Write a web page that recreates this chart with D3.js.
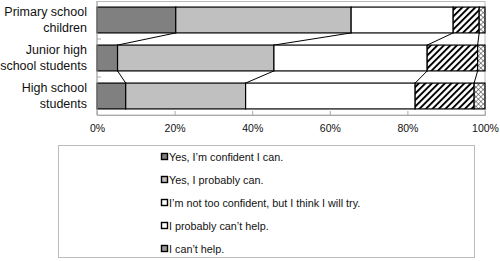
<!DOCTYPE html>
<html>
<head>
<meta charset="utf-8">
<script src="https://cdn.jsdelivr.net/npm/d3@7"></script>
<style>
  body { margin: 0; background: #fff; }
  text { font-family: "Liberation Sans", Arial, sans-serif; fill: #111; }
</style>
</head>
<body>
<div id="chart"></div>
<script>
var categories = ["Primary school children", "Junior high school students", "High school students"];
var categoryLines = [["Primary school", "children"], ["Junior high", "school students"], ["High school", "students"]];
var seriesNames = ["Yes, I\u2019m confident I can.", "Yes, I probably can.", "I\u2019m not too confident, but I think I will try.", "I probably can\u2019t help.", "I can\u2019t help."];
var confident = [20.3, 5.3, 7.4];
var probablyCan = [45.2, 40.3, 30.9];
var tryIt = [26.3, 39.5, 43.7];
var probablyCant = [6.7, 13.0, 15.2];
var cant = [1.5, 1.9, 2.8];
var tickValues = [0, 20, 40, 60, 80, 100];

var series = [confident, probablyCan, tryIt, probablyCant, cant];
var fills = ["#808080", "#c0c0c0", "#ffffff", "url(#hatch)", "url(#cross)"];

var svg = d3.select("#chart").append("svg")
    .attr("width", 500)
    .attr("height", 261);

// patterns
var defs = svg.append("defs");
var hatch = defs.append("pattern")
    .attr("id", "hatch")
    .attr("patternUnits", "userSpaceOnUse")
    .attr("width", 4.6).attr("height", 4.6)
    .attr("patternTransform", "rotate(45)");
hatch.append("rect").attr("width", 4.6).attr("height", 4.6).attr("fill", "#fff");
hatch.append("line").attr("x1", 0).attr("y1", 0).attr("x2", 0).attr("y2", 4.6)
    .attr("stroke", "#000").attr("stroke-width", 3.8);

var cross = defs.append("pattern")
    .attr("id", "cross")
    .attr("patternUnits", "userSpaceOnUse")
    .attr("width", 3.4).attr("height", 3.4)
    .attr("patternTransform", "rotate(45)");
cross.append("rect").attr("width", 3.4).attr("height", 3.4).attr("fill", "#fff");
cross.append("line").attr("x1", 0).attr("y1", 0).attr("x2", 0).attr("y2", 3.4)
    .attr("stroke", "#333").attr("stroke-width", 1);
cross.append("line").attr("x1", 0).attr("y1", 0).attr("x2", 3.4).attr("y2", 0)
    .attr("stroke", "#333").attr("stroke-width", 1);

var x = d3.scaleLinear().domain([0, 100]).range([97, 485]);
var y = d3.scaleBand().domain(categories).range([1, 115]).paddingInner(0.32).paddingOuter(0.16);

// stacked data
var stacked = categories.map(function (c, i) {
    var cum = 0;
    return series.map(function (s, j) {
        var start = cum;
        cum += s[i];
        return { cat: c, j: j, x0: start, x1: cum };
    });
});

// plot frame
svg.append("rect")
    .attr("x", x(0)).attr("y", 1.5)
    .attr("width", x(100) - x(0)).attr("height", 113.5)
    .attr("fill", "none").attr("stroke", "#bbb").attr("stroke-width", 1);

// series lines between bars
for (var i = 0; i < categories.length - 1; i++) {
    for (var j = 0; j < series.length - 1; j++) {
        svg.append("line")
            .attr("x1", x(stacked[i][j].x1))
            .attr("y1", y(categories[i]) + y.bandwidth())
            .attr("x2", x(stacked[i + 1][j].x1))
            .attr("y2", y(categories[i + 1]))
            .attr("stroke", "#000").attr("stroke-width", 1);
    }
}

// bars
stacked.forEach(function (row) {
    svg.selectAll(null)
        .data(row)
        .enter()
        .append("rect")
        .attr("x", function (d) { return x(d.x0); })
        .attr("y", function (d) { return y(d.cat); })
        .attr("width", function (d) { return x(d.x1) - x(d.x0); })
        .attr("height", y.bandwidth())
        .attr("fill", function (d) { return fills[d.j]; })
        .attr("stroke", "#000")
        .attr("stroke-width", 1.2);
});

// x axis
var xAxis = svg.append("g")
    .attr("transform", "translate(0,115)")
    .call(d3.axisBottom(x).tickValues(tickValues).tickSize(-4).tickPadding(10)
        .tickFormat(function (d) { return d + "%"; }));
xAxis.select(".domain").attr("stroke", "#aaa");
xAxis.selectAll(".tick line").attr("stroke", "#aaa");
xAxis.selectAll("text").style("font-size", "10.5px").attr("fill", "#111");

// y axis ticks between categories
var yAxisG = svg.append("g");
yAxisG.append("line").attr("x1", x(0)).attr("x2", x(0)).attr("y1", 1).attr("y2", 115)
    .attr("stroke", "#aaa");
[1, 2].forEach(function (k) {
    var yy = y(categories[k]) - y.step() * y.paddingInner() / 2;
    yAxisG.append("line").attr("x1", x(0)).attr("x2", x(0) + 4).attr("y1", yy).attr("y2", yy)
        .attr("stroke", "#aaa");
});

// category labels
categories.forEach(function (c, i) {
    var cy = y(c) + y.bandwidth() / 2;
    var t = svg.append("text")
        .attr("text-anchor", "end")
        .style("font-size", "12.5px");
    categoryLines[i].forEach(function (ln, k) {
        t.append("tspan").attr("x", 87).attr("y", cy - 8 + k * 16 + 4).text(ln);
    });
});

// legend
svg.append("rect")
    .attr("x", 58.5).attr("y", 145.5)
    .attr("width", 416).attr("height", 112)
    .attr("fill", "#fff").attr("stroke", "#bbb").attr("stroke-width", 1);

var legendY = d3.scalePoint().domain(seriesNames).range([157, 249]);
seriesNames.forEach(function (name, j) {
    var ly = legendY(name);
    svg.append("rect")
        .attr("x", 161.5).attr("y", ly - 3.5)
        .attr("width", 6).attr("height", 6)
        .attr("fill", fills[j] === "url(#hatch)" ? "#fff" : fills[j] === "url(#cross)" ? "#999" : fills[j])
        .attr("stroke", "#000").attr("stroke-width", 1.4);
    svg.append("text")
        .attr("x", 169).attr("y", ly + 4)
        .style("font-size", "10.8px")
        .text(name);
});
</script>
</body>
</html>
